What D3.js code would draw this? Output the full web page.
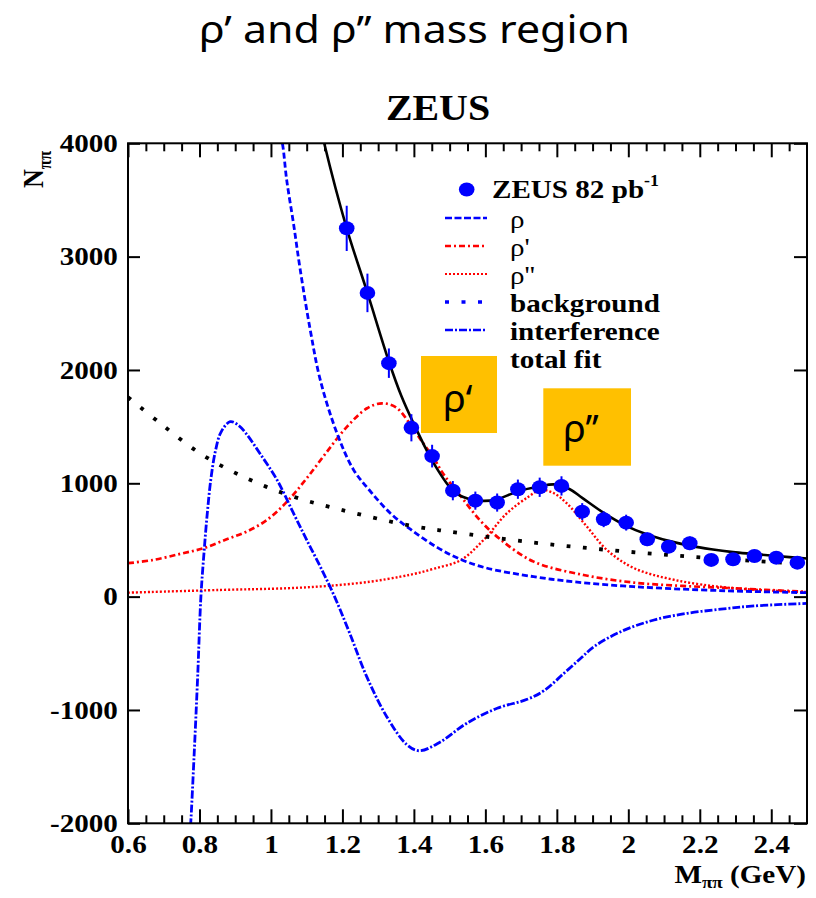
<!DOCTYPE html>
<html>
<head>
<meta charset="utf-8">
<script src="https://cdn.jsdelivr.net/npm/d3@7"></script>
<style>
  body { margin: 0; background: #fff; }
  svg { display: block; }
</style>
</head>
<body>
<svg id="chart" width="816" height="898"></svg>
<script>
// ---------- axis ticks ----------
const xTicks = [0.6, 0.8, 1.0, 1.2, 1.4, 1.6, 1.8, 2.0, 2.2, 2.4];
const yTicks = [-2000, -1000, 0, 1000, 2000, 3000, 4000];

// ---------- ZEUS data points (M_pipi in GeV, events per bin) ----------
const massBins  = [1.212, 1.270, 1.330, 1.393, 1.451, 1.509, 1.572, 1.633, 1.691, 1.752, 1.813,
                   1.871, 1.931, 1.994, 2.053, 2.113, 2.172, 2.232, 2.293, 2.353, 2.414, 2.473];
const counts    = [3250, 2680, 2060, 1490, 1240, 935, 847, 830, 948, 965, 977,
                   750, 683, 653, 506, 441, 471, 324, 330, 359, 344, 300];
const countErrs = [200, 170, 130, 120, 100, 85, 80, 80, 85, 85, 85,
                   75, 70, 70, 60, 55, 60, 50, 50, 50, 50, 45];

// ---------- fit components ----------
const rhoM = [1.020, 1.032, 1.044, 1.063, 1.082, 1.110, 1.138, 1.185, 1.231, 1.278, 1.334,
              1.390, 1.465, 1.530, 1.600, 1.735, 1.850, 2.015, 2.200, 2.350, 2.500];
const rhoN = [4150, 4000, 3677, 3294, 2883, 2353, 1912, 1440, 1120, 930, 736,
              595, 435, 330, 255, 176, 130, 88, 60, 45, 35];

const rhoPM = [0.600, 0.671, 0.746, 0.811, 0.876, 0.932, 0.989, 1.045, 1.100, 1.157, 1.213,
               1.269, 1.311, 1.350, 1.390, 1.420, 1.455, 1.483, 1.535, 1.586, 1.642, 1.735,
               1.875, 2.015, 2.150, 2.295, 2.500];
const rhoPN = [295, 324, 377, 427, 506, 574, 677, 838, 1044, 1280, 1500,
               1662, 1706, 1670, 1520, 1380, 1225, 1080, 870, 670, 505, 309,
               191, 124, 95, 74, 42];

const rhoPPM = [0.600, 0.858, 1.045, 1.157, 1.278, 1.362, 1.408, 1.460, 1.530, 1.595, 1.660,
                1.720, 1.754, 1.790, 1.828, 1.884, 1.940, 2.015, 2.130, 2.290, 2.500];
const rhoPPN = [35, 59, 74, 94, 132, 176, 206, 250, 320, 500, 735,
                880, 941, 915, 823, 618, 412, 253, 147, 76, 40];

const bkgM = [0.600, 0.690, 0.804, 0.930, 1.063, 1.198, 1.390, 1.548, 1.735, 1.922, 2.109, 2.300, 2.500];
const bkgN = [1760, 1530, 1259, 1047, 882, 765, 627, 553, 477, 418, 368, 325, 288];

const intM = [0.772, 0.7755, 0.785, 0.795, 0.804, 0.813, 0.822, 0.832, 0.845, 0.860, 0.886,
              0.910, 0.930, 0.972, 1.017, 1.063, 1.100, 1.138, 1.178, 1.220, 1.268, 1.324,
              1.380, 1.415, 1.474, 1.548, 1.633, 1.717, 1.764, 1.820, 1.867, 1.904, 1.979,
              2.072, 2.165, 2.259, 2.352, 2.500];
const intN = [-2150, -2000, -1400, -700, 0, 400, 740, 1040, 1290, 1450, 1544,
              1510, 1441, 1250, 1030, 736, 500, 265, 0, -320, -706, -1059,
              -1305, -1360, -1282, -1117, -985, -906, -830, -676, -544, -441, -309,
              -206, -147, -111, -82, -60];

const fitM = [1.120, 1.149, 1.212, 1.270, 1.330, 1.365, 1.399, 1.455, 1.511, 1.550, 1.590,
              1.630, 1.690, 1.750, 1.795, 1.835, 1.871, 1.930, 1.994, 2.053, 2.113, 2.172,
              2.232, 2.293, 2.353, 2.414, 2.500];
const fitN = [4420, 4000, 3250, 2680, 2075, 1770, 1530, 1180, 930, 865, 845,
              855, 928, 972, 990, 950, 872, 742, 625, 548, 492, 450,
              418, 393, 376, 358, 336];

const legendLabels = ["ρ", "ρ'", "ρ''", "background", "interference", "total fit"];

// ---------- drawing ----------
const svg = d3.select("#chart");
const serif = "'Liberation Serif','Times New Roman',serif";
const sans = "'Noto Sans','Open Sans',sans-serif";
const SX = 1.12;          // horizontal text stretch used by the plot lettering
const BLUE = "#0000ff", RED = "#ff0000";

const x = d3.scaleLinear().domain([0.6, 2.5]).range([128, 807]);
const y = d3.scaleLinear().domain([-2000, 4000]).range([823.3, 143.3]);
const [x0, x1] = x.range();
const [y0, y1] = [y.range()[1], y.range()[0]];

svg.append("rect").attr("width", 816).attr("height", 898).attr("fill", "#fff");

// slide title
svg.append("text")
  .attr("x", 199).attr("y", 43)
  .attr("font-family", sans).attr("font-size", 39)
  .attr("textLength", 431).attr("lengthAdjust", "spacingAndGlyphs")
  .attr("fill", "#000")
  .text("ρ’ and ρ’’ mass region");

// experiment label
svg.append("text")
  .attr("transform", `translate(438,120) scale(1.14,1)`)
  .attr("text-anchor", "middle")
  .attr("font-family", serif).attr("font-weight", "bold").attr("font-size", 35)
  .text("ZEUS");

svg.append("defs").append("clipPath").attr("id", "plotClip")
  .append("rect").attr("x", x0).attr("y", y0).attr("width", x1 - x0).attr("height", y1 - y0);

const plot = svg.append("g").attr("clip-path", "url(#plotClip)");

const line = d3.line()
  .x(d => x(d[0])).y(d => y(d[1]))
  .curve(d3.curveCatmullRom.alpha(0.5));

const curves = [
  { m: rhoPPM, n: rhoPPN, color: RED,  width: 2.4, dash: "2,2" },
  { m: rhoPM,  n: rhoPN,  color: RED,  width: 2.7, dash: "6,3,2,3" },
  { m: rhoM,   n: rhoN,   color: BLUE, width: 2.8, dash: "6,3" },
  { m: bkgM,   n: bkgN,   color: "#000", width: 3.8, dash: "3.8,12.5" },
  { m: intM,   n: intN,   color: BLUE, width: 2.8, dash: "8,2,2,2" },
  { m: fitM,   n: fitN,   color: "#000", width: 2.6, dash: null }
];

curves.forEach(c => {
  plot.append("path")
    .datum(d3.zip(c.m, c.n))
    .attr("d", line)
    .attr("fill", "none")
    .attr("stroke", c.color)
    .attr("stroke-width", c.width)
    .attr("stroke-dasharray", c.dash);
});

// data points with error bars
const pts = d3.zip(massBins, counts, countErrs);
plot.selectAll("line.err").data(pts).join("line")
  .attr("class", "err")
  .attr("x1", d => x(d[0])).attr("x2", d => x(d[0]))
  .attr("y1", d => y(d[1] - d[2])).attr("y2", d => y(d[1] + d[2]))
  .attr("stroke", BLUE).attr("stroke-width", 2);
plot.selectAll("ellipse.pt").data(pts).join("ellipse")
  .attr("class", "pt")
  .attr("cx", d => x(d[0])).attr("cy", d => y(d[1]))
  .attr("rx", 7.8).attr("ry", 7)
  .attr("fill", BLUE);

// ---------- axes ----------
const minorX = d3.range(12, 50).filter(i => i % 4 !== 0).map(i => +(i * 0.05).toFixed(2));
const fmt = d => String(+(+d).toFixed(1));

function styleAxis(g) {
  g.select(".domain").remove();
  g.selectAll(".tick line").attr("stroke", "#000").attr("stroke-width", 2);
}

// bottom
svg.append("g").attr("transform", `translate(0,${y1})`)
  .call(d3.axisBottom(x).tickValues(xTicks).tickSize(-14).tickPadding(11).tickFormat(fmt))
  .call(styleAxis);
svg.append("g").attr("transform", `translate(0,${y1})`)
  .call(d3.axisBottom(x).tickValues(minorX).tickSize(-8).tickFormat(""))
  .call(styleAxis);
// top
svg.append("g").attr("transform", `translate(0,${y0})`)
  .call(d3.axisTop(x).tickValues(xTicks).tickSize(-14).tickFormat(""))
  .call(styleAxis);
svg.append("g").attr("transform", `translate(0,${y0})`)
  .call(d3.axisTop(x).tickValues(minorX).tickSize(-8).tickFormat(""))
  .call(styleAxis);
// left
svg.append("g").attr("transform", `translate(${x0},0)`)
  .call(d3.axisLeft(y).tickValues(yTicks).tickSize(-12).tickPadding(9).tickFormat(d => String(d)))
  .call(styleAxis);
// right
svg.append("g").attr("transform", `translate(${x1},0)`)
  .call(d3.axisRight(y).tickValues(yTicks).tickSize(-13).tickFormat(""))
  .call(styleAxis);

svg.selectAll(".tick text")
  .attr("font-family", serif).attr("font-weight", "bold").attr("font-size", 26)
  .attr("fill", "#000")
  .attr("transform", `scale(${SX},1)`);

// frame
svg.append("rect")
  .attr("x", x0).attr("y", y0).attr("width", x1 - x0).attr("height", y1 - y0)
  .attr("fill", "none").attr("stroke", "#000").attr("stroke-width", 2);

// axis titles
const xt = svg.append("text")
  .attr("transform", `translate(806,883) scale(${SX},1)`)
  .attr("text-anchor", "end")
  .attr("font-family", serif).attr("font-weight", "bold").attr("font-size", 26);
xt.append("tspan").text("M");
xt.append("tspan").attr("font-size", 17).attr("dy", 5).text("ππ");
xt.append("tspan").attr("dy", -5).text(" (GeV)");

const yt = svg.append("text")
  .attr("transform", `translate(43,188) scale(${SX},1) rotate(-90)`)
  .attr("font-family", serif).attr("font-weight", "bold").attr("font-size", 26);
yt.append("tspan").text("N");
yt.append("tspan").attr("font-size", 17).attr("dy", 7).text("ππ");

// ---------- legend ----------
const lg = svg.append("g");
lg.append("ellipse").attr("cx", 466.7).attr("cy", 189.5).attr("rx", 7.8).attr("ry", 7).attr("fill", BLUE);
const zt = lg.append("text")
  .attr("transform", `translate(492,198) scale(${SX},1)`)
  .attr("font-family", serif).attr("font-weight", "bold").attr("font-size", 26);
zt.append("tspan").text("ZEUS 82 pb");
zt.append("tspan").attr("font-size", 16).attr("dy", -12).text("-1");

const legendStyles = [
  { color: BLUE, width: 2.5, dash: "7,2.5" },
  { color: RED,  width: 2.5, dash: "6,3,2,3" },
  { color: RED,  width: 2,   dash: "2,2" },
  { color: BLUE, width: 3.5, dash: "4,12.5" },
  { color: BLUE, width: 2.5, dash: "8,2,2,2" },
  { color: "#000", width: 2.5, dash: null }
];

legendLabels.forEach((lab, i) => {
  const base = 228 + i * 28;
  const st = legendStyles[i];
  lg.append("line")
    .attr("x1", 445).attr("x2", 487)
    .attr("y1", base - 10).attr("y2", base - 10)
    .attr("stroke", st.color).attr("stroke-width", st.width)
    .attr("stroke-dasharray", st.dash);
  const greek = i < 3;
  lg.append("text")
    .attr("transform", `translate(510,${base}) scale(${SX},1)`)
    .attr("font-family", serif)
    .attr("font-weight", greek ? "normal" : "bold")
    .attr("font-size", 26)
    .text(lab);
});

// ---------- highlighted resonances ----------
const boxes = [
  { x: 421, y: 356, w: 76, h: 77, label: "ρ‘", tx: 443, ty: 412 },
  { x: 543.3, y: 388.3, w: 87.7, h: 77.4, label: "ρ’’", tx: 563, ty: 442 }
];
boxes.forEach(b => {
  svg.append("rect").attr("x", b.x).attr("y", b.y).attr("width", b.w).attr("height", b.h)
    .attr("fill", "#ffc000");
  svg.append("text").attr("x", b.tx).attr("y", b.ty)
    .attr("font-family", sans).attr("font-size", 38).attr("fill", "#000")
    .text(b.label);
});
</script>
</body>
</html>
